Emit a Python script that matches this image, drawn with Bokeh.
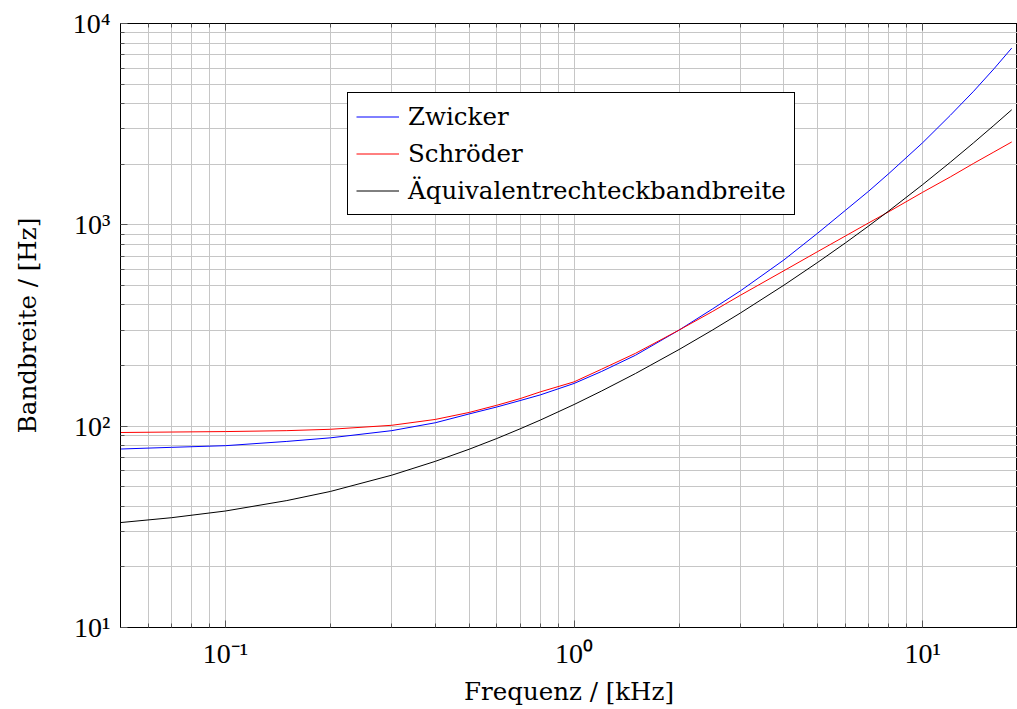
from bokeh.plotting import figure
from bokeh.models import FixedTicker, LogAxis, ColumnDataSource
from bokeh.embed import file_html
from bokeh.resources import INLINE

# Frequencies in kHz
freq = [0.05, 0.07, 0.1, 0.15, 0.2, 0.3, 0.4, 0.5, 0.6, 0.7, 0.8, 1.0, 1.2, 1.5, 2.0, 2.5,
        3.0, 4.0, 5.0, 6.0, 7.0, 8.0, 10.0, 12.0, 14.0, 16.0, 18.0]
# Bandwidths in Hz
zwicker = [77, 78.5, 80, 84, 87.5, 95, 104, 115, 124.5, 134, 143, 163, 187, 225, 300, 383,
           470, 670, 910, 1180, 1470, 1800, 2560, 3500, 4610, 5950, 7550]
schroeder = [93, 93.5, 94, 95, 96.5, 101, 108, 117, 127, 137, 148, 166, 192, 230, 300, 372,
             447, 592, 737, 880, 1023, 1163, 1452, 1730, 2020, 2300, 2580]
erb = [33.2, 35.1, 37.9, 42.7, 47.4, 57.1, 66.9, 76.8, 86.8, 97.0, 107.2, 128.1, 149.6, 182.6, 240.2, 300.9,
       364.8, 501.8, 651.3, 813, 987.5, 1174, 1585, 2046, 2557, 3118, 3728]

series_names = ["Zwicker", "Schröder", "Äquivalentrechteckbandbreite"]
series_colors = ["#0000ff", "#ff0000", "#000000"]

x_major = [0.1, 1, 10]
x_minor = [0.05, 0.06, 0.07, 0.08, 0.09, 0.2, 0.3, 0.4, 0.5, 0.6, 0.7, 0.8, 0.9,
           2, 3, 4, 5, 6, 7, 8, 9]
x_labels = {0.1: "10⁻¹", 1: "10⁰", 10: "10¹"}
y_major = [10, 100, 1000, 10000]
y_minor = [m * d for d in [10, 100, 1000] for m in range(2, 10)]
y_labels = {10: "10¹", 100: "10²", 1000: "10³", 10000: "10⁴"}

TICKFONT = "Liberation Serif"
FONT = "DejaVu Serif"
GRID = "#c6c6c6"

p = figure(width=1017, height=709, x_axis_type="log", y_axis_type="log",
           x_range=(0.05, 18.7), y_range=(10, 10000),
           output_backend="svg", toolbar_location=None,
           min_border_left=120, min_border_right=0, min_border_top=23, min_border_bottom=82)

p.background_fill_color = "white"
p.border_fill_color = "white"
p.outline_line_color = "black"
p.outline_line_width = 1

p.xaxis.ticker = FixedTicker(ticks=x_major, minor_ticks=x_minor)
p.yaxis.ticker = FixedTicker(ticks=y_major, minor_ticks=y_minor)
p.xaxis.major_label_overrides = x_labels
p.yaxis.major_label_overrides = y_labels

for ax in [p.xaxis[0], p.yaxis[0]]:
    ax.major_tick_in = 7
    ax.major_tick_out = 0
    ax.minor_tick_in = 4
    ax.minor_tick_out = 0
    ax.axis_line_color = "black"
    ax.major_tick_line_color = "#555555"
    ax.minor_tick_line_color = "#555555"
    ax.major_label_text_font = TICKFONT
    ax.major_label_text_font_size = "28px"
    ax.major_label_text_color = "black"
    ax.axis_label_text_font = FONT
    ax.axis_label_text_font_size = "24.5px"
    ax.axis_label_text_font_style = "normal"
    ax.axis_label_text_color = "black"
    ax.major_label_standoff = 10

p.xaxis.axis_label = "Frequenz / [kHz]"
p.yaxis.axis_label = "Bandbreite / [Hz]"
p.xaxis.axis_label_standoff = 5
p.yaxis.axis_label_standoff = 28

top_axis = LogAxis(ticker=FixedTicker(ticks=x_major, minor_ticks=x_minor),
                   major_label_text_font_size="6px", major_label_text_alpha=0,
                   major_tick_in=7, major_tick_out=0,
                   minor_tick_in=4, minor_tick_out=0, axis_line_color="black",
                   major_tick_line_color="#555555", minor_tick_line_color="#555555",
                   major_label_standoff=0)
p.add_layout(top_axis, "above")

for g in [p.xgrid[0], p.ygrid[0]]:
    g.grid_line_color = GRID
    g.grid_line_width = 1
    g.minor_grid_line_color = GRID
    g.minor_grid_line_width = 1

for ys, c, n in zip([zwicker, schroeder, erb], series_colors, series_names):
    src = ColumnDataSource(data=dict(x=freq, y=ys))
    p.line("x", "y", source=src, line_color=c, line_width=1.0, legend_label=n)

legend = p.legend[0]
legend.location = (227, 412)
legend.label_text_font = FONT
legend.label_text_font_size = "24.5px"
legend.label_text_color = "black"
legend.glyph_width = 43
legend.glyph_height = 31
legend.label_height = 31
legend.spacing = 6
legend.padding = 8
legend.margin = 0
legend.label_standoff = 9
legend.border_line_color = "black"
legend.border_line_width = 1
legend.border_line_alpha = 1
legend.background_fill_alpha = 1

open("out.html", "w").write(file_html(p, INLINE))
